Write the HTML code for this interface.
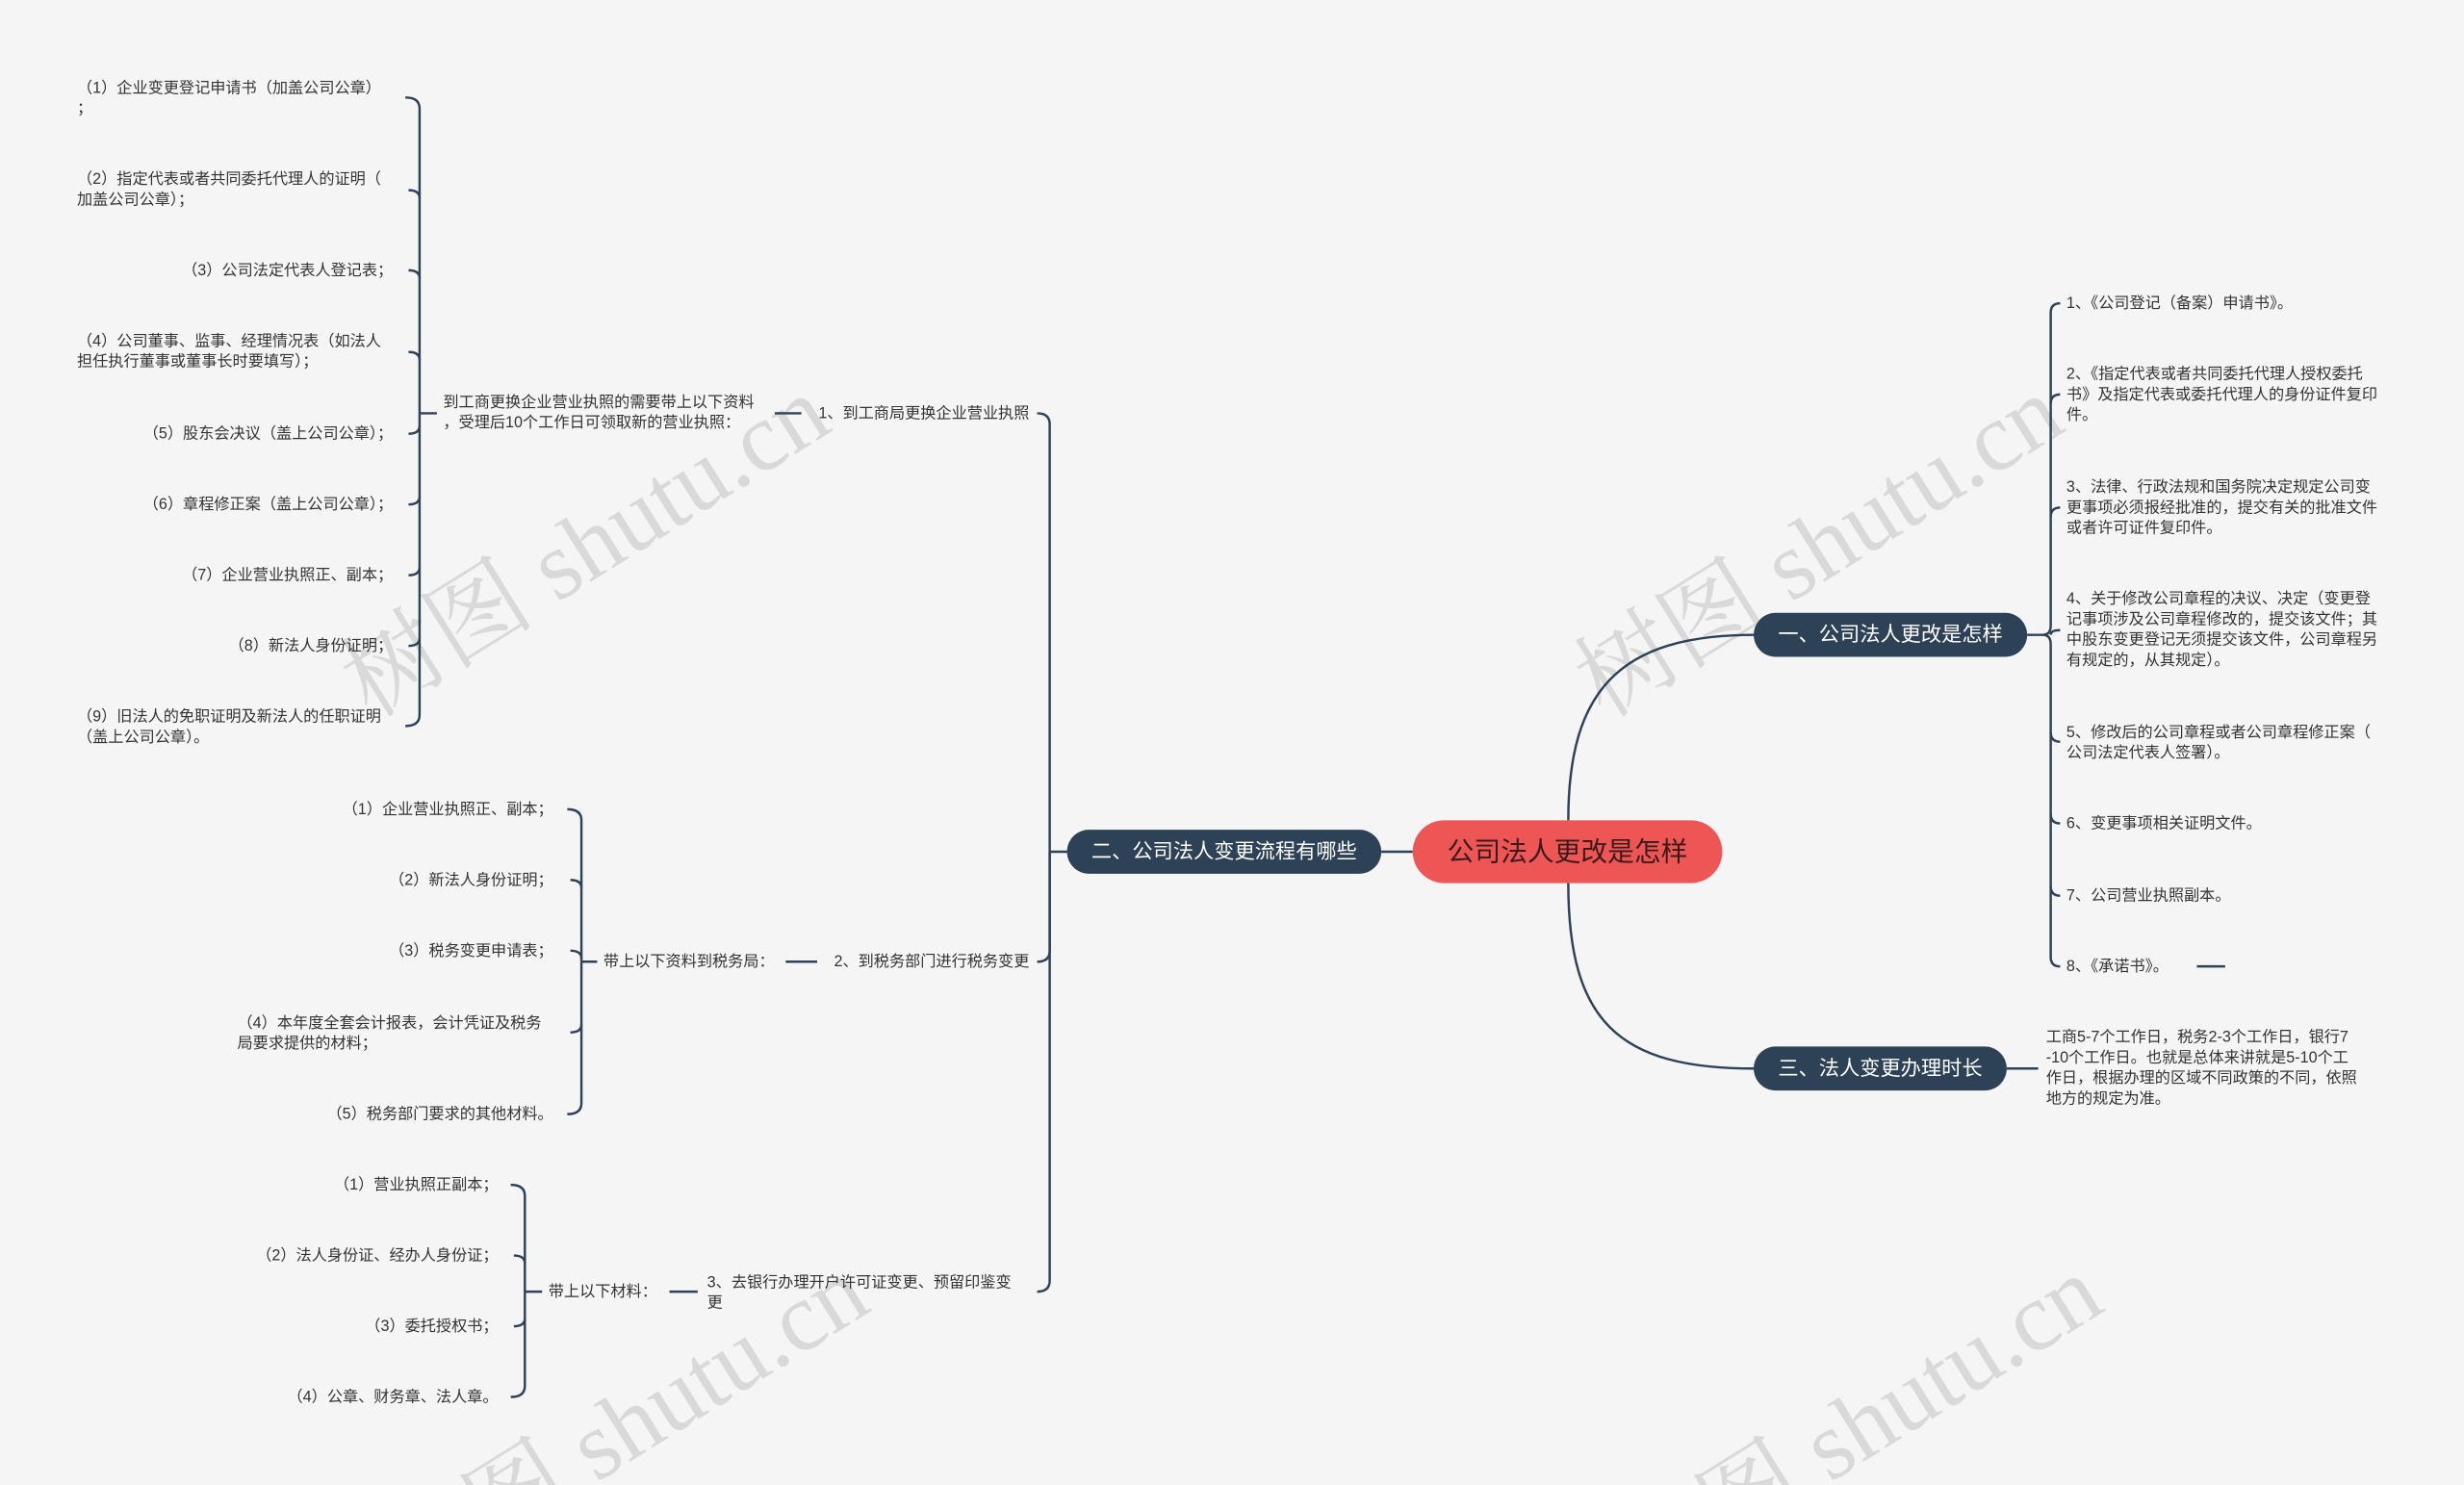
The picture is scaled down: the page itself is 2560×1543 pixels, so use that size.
<!DOCTYPE html>
<html><head><meta charset="utf-8"><style>
html,body{margin:0;padding:0;background:#f5f5f5;width:2560px;height:1543px;overflow:hidden;}
svg{display:block;}
text{font-family:"Liberation Sans","Noto Sans CJK SC",sans-serif;fill:#333;}
.s{font-size:9.9px;}
.b{font-size:13px;fill:#fff;}
.w{font-family:"Liberation Serif","Noto Serif CJK SC",serif;font-size:62px;fill:#d0d0d0;opacity:.75;}
</style></head><body>
<svg width="2560" height="1543" viewBox="0 0 1568 945" xmlns="http://www.w3.org/2000/svg">
<rect width="1568" height="945" fill="#f5f5f5"/>
<g dominant-baseline="central">
<text class="w" transform="translate(225,440) rotate(-32)">树图 shutu.cn</text>
<text class="w" transform="translate(1010,440) rotate(-32)">树图 shutu.cn</text>
<text class="w" transform="translate(250,1000) rotate(-32)">树图 shutu.cn</text>
<text class="w" transform="translate(1035,1000) rotate(-32)">树图 shutu.cn</text>

<g fill="none" stroke="#2d4256" stroke-width="1.5">
<path d="M998 522 C998 440 1030 404 1116 404"/>
<path d="M998 562 C998 650 1030 680 1116 680"/>
<path d="M899 542 H879"/>
<path d="M1290 404 H1300"/>
<path d="M1300 404 Q1305 404 1305 398 V199 Q1305 193 1311 193"/>
<path d="M1305 257 Q1305 251 1311 251"/>
<path d="M1305 329 Q1305 323 1311 323"/>
<path d="M1305 404 Q1305 401 1311 401"/>
<path d="M1300 404 Q1305 404 1305 410 V609 Q1305 615 1311 615"/>
<path d="M1305 466 Q1305 472 1311 472"/>
<path d="M1305 518 Q1305 524 1311 524"/>
<path d="M1305 564 Q1305 570 1311 570"/>
<path d="M1398 615 H1416"/>
<path d="M1277 680 H1297"/>
<path d="M679 542 H668"/>
<path d="M668 542 V270 Q668 263 660 263"/>
<path d="M668 542 V605 Q668 612 660 612"/>
<path d="M668 542 V815 Q668 822 660 822"/>
<path d="M493 263 H510"/>
<path d="M500 612 H520"/>
<path d="M426 822 H444"/>
<path d="M278 263 H267"/>
<path d="M267 263 V69 Q267 62 258 62"/>
<path d="M267 263 V455 Q267 462 258 462"/>
<path d="M267 126 Q267 121 260 121"/>
<path d="M267 177 Q267 172 260 172"/>
<path d="M267 229 Q267 224 260 224"/>
<path d="M267 271 Q267 276 260 276"/>
<path d="M267 316 Q267 321 260 321"/>
<path d="M267 361 Q267 366 260 366"/>
<path d="M267 406 Q267 411 260 411"/>
<path d="M380 612 H370"/>
<path d="M370 612 V522 Q370 515 361 515"/>
<path d="M370 612 V702 Q370 709 361 709"/>
<path d="M370 565 Q370 560 363 560"/>
<path d="M370 610 Q370 605 363 605"/>
<path d="M370 652 Q370 657 363 657"/>
<path d="M345 822 H334"/>
<path d="M334 822 V761 Q334 754 325 754"/>
<path d="M334 822 V882 Q334 889 325 889"/>
<path d="M334 804 Q334 799 327 799"/>
<path d="M334 839 Q334 844 327 844"/>
</g>

<rect x="899" y="522" width="197" height="40" rx="20" fill="#ee5656"/>
<text x="997.5" y="542" text-anchor="middle" style="font-size:17px;fill:#3a1a1a">公司法人更改是怎样</text>
<rect x="1116" y="390" width="174" height="28" rx="14" fill="#2d4256"/>
<text class="b" x="1203" y="404" text-anchor="middle">一、公司法人更改是怎样</text>
<rect x="1116" y="666" width="161" height="28" rx="14" fill="#2d4256"/>
<text class="b" x="1196.5" y="680" text-anchor="middle">三、法人变更办理时长</text>
<rect x="679" y="528" width="200" height="28" rx="14" fill="#2d4256"/>
<text class="b" x="779" y="542" text-anchor="middle">二、公司法人变更流程有哪些</text>

<g class="s">
<text class="s" x="1315" y="193">1、《公司登记（备案）申请书》。</text>
<text class="s" x="1315" y="238">2、《指定代表或者共同委托代理人授权委托</text>
<text class="s" x="1315" y="251">书》及指定代表或委托代理人的身份证件复印</text>
<text class="s" x="1315" y="264">件。</text>
<text class="s" x="1315" y="310">3、法律、行政法规和国务院决定规定公司变</text>
<text class="s" x="1315" y="323">更事项必须报经批准的，提交有关的批准文件</text>
<text class="s" x="1315" y="336">或者许可证件复印件。</text>
<text class="s" x="1315" y="381">4、关于修改公司章程的决议、决定（变更登</text>
<text class="s" x="1315" y="394">记事项涉及公司章程修改的，提交该文件；其</text>
<text class="s" x="1315" y="407">中股东变更登记无须提交该文件，公司章程另</text>
<text class="s" x="1315" y="420">有规定的，从其规定）。</text>
<text class="s" x="1315" y="466">5、修改后的公司章程或者公司章程修正案（</text>
<text class="s" x="1315" y="479">公司法定代表人签署）。</text>
<text class="s" x="1315" y="524">6、变更事项相关证明文件。</text>
<text class="s" x="1315" y="570">7、公司营业执照副本。</text>
<text class="s" x="1315" y="615">8、《承诺书》。</text>
<text class="s" x="1302" y="660">工商5-7个工作日，税务2-3个工作日，银行7</text>
<text class="s" x="1302" y="673">-10个工作日。也就是总体来讲就是5-10个工</text>
<text class="s" x="1302" y="686">作日，根据办理的区域不同政策的不同，依照</text>
<text class="s" x="1302" y="699">地方的规定为准。</text>

<text class="s" x="655" y="263" text-anchor="end">1、到工商局更换企业营业执照</text>
<text class="s" x="655" y="612" text-anchor="end">2、到税务部门进行税务变更</text>
<text class="s" x="450" y="816">3、去银行办理开户许可证变更、预留印鉴变</text>
<text class="s" x="450" y="829">更</text>
<text class="s" x="282" y="256">到工商更换企业营业执照的需要带上以下资料</text>
<text class="s" x="282" y="269">，受理后10个工作日可领取新的营业执照：</text>
<text class="s" x="384" y="612">带上以下资料到税务局：</text>
<text class="s" x="349" y="822">带上以下材料：</text>

<text class="s" x="49" y="56">（1）企业变更登记申请书（加盖公司公章）</text>
<text class="s" x="49" y="69">；</text>
<text class="s" x="49" y="114">（2）指定代表或者共同委托代理人的证明（</text>
<text class="s" x="49" y="127">加盖公司公章）；</text>
<text class="s" x="250" y="172" text-anchor="end">（3）公司法定代表人登记表；</text>
<text class="s" x="49" y="217">（4）公司董事、监事、经理情况表（如法人</text>
<text class="s" x="49" y="230">担任执行董事或董事长时要填写）；</text>
<text class="s" x="250" y="276" text-anchor="end">（5）股东会决议（盖上公司公章）；</text>
<text class="s" x="250" y="321" text-anchor="end">（6）章程修正案（盖上公司公章）；</text>
<text class="s" x="250" y="366" text-anchor="end">（7）企业营业执照正、副本；</text>
<text class="s" x="250" y="411" text-anchor="end">（8）新法人身份证明；</text>
<text class="s" x="49" y="456">（9）旧法人的免职证明及新法人的任职证明</text>
<text class="s" x="49" y="469">（盖上公司公章）。</text>

<text class="s" x="352" y="515" text-anchor="end">（1）企业营业执照正、副本；</text>
<text class="s" x="352" y="560" text-anchor="end">（2）新法人身份证明；</text>
<text class="s" x="352" y="605" text-anchor="end">（3）税务变更申请表；</text>
<text class="s" x="151" y="651">（4）本年度全套会计报表，会计凭证及税务</text>
<text class="s" x="151" y="664">局要求提供的材料；</text>
<text class="s" x="352" y="709" text-anchor="end">（5）税务部门要求的其他材料。</text>

<text class="s" x="317" y="754" text-anchor="end">（1）营业执照正副本；</text>
<text class="s" x="317" y="799" text-anchor="end">（2）法人身份证、经办人身份证；</text>
<text class="s" x="317" y="844" text-anchor="end">（3）委托授权书；</text>
<text class="s" x="317" y="889" text-anchor="end">（4）公章、财务章、法人章。</text>
</g>
</g>
</svg>
</body></html>
